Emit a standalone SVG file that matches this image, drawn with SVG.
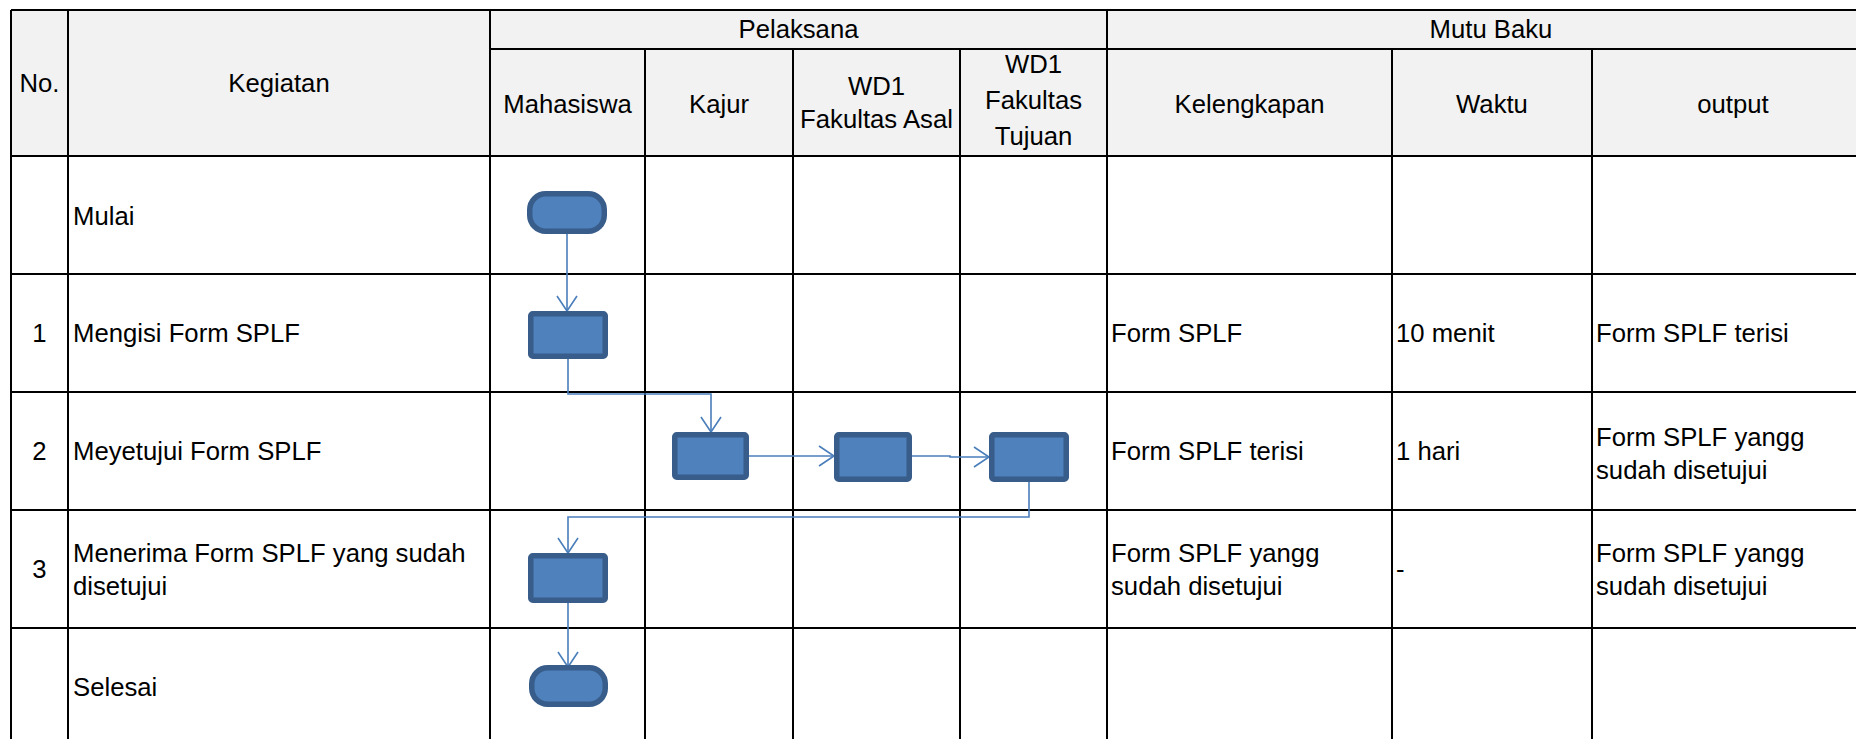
<svg xmlns="http://www.w3.org/2000/svg" width="1856" height="739" viewBox="0 0 1856 739">
<style>
text{font-family:"Liberation Sans",Arial,sans-serif;font-size:25.7px;fill:#000}
.c{text-anchor:middle}
.grid{stroke:#000;stroke-width:2;fill:none}
.node{fill:#4F81BD;stroke:#385D8A;stroke-width:5.5}
.conn{fill:none;stroke:#4A7EBB;stroke-width:1.6}
</style>
<defs>
<marker id="arr" markerUnits="userSpaceOnUse" viewBox="-18 -12 20 24" markerWidth="20" markerHeight="24" refX="0" refY="0" orient="auto">
<path d="M-15,-10 L0,0 L-15,10" fill="none" stroke="#4A7EBB" stroke-width="1.6"/>
</marker>
</defs>
<rect width="1856" height="739" fill="#fff"/>
<g id="table">
<rect x="11" y="10" width="1860" height="146" fill="#F2F2F2"/>
<path class="grid" d="M11 10H1856M490 49H1856M11 156H1856M11 274H1856M11 392H1856M11 510H1856M11 628H1856"/>
<path class="grid" d="M11 10V739M68 10V739M490 10V739M645 49V739M793 49V739M960 49V739M1107 10V739M1392 49V739M1592 49V739"/>
</g>
<g id="header">
<text class="c" x="39.5" y="92">No.</text>
<text class="c" x="279" y="92">Kegiatan</text>
<text class="c" x="798.5" y="38">Pelaksana</text>
<text class="c" x="1491" y="38">Mutu Baku</text>
<text class="c" x="567.5" y="113">Mahasiswa</text>
<text class="c" x="719" y="113">Kajur</text>
<text class="c" x="876.5" y="95">WD1</text>
<text class="c" x="876.5" y="128">Fakultas Asal</text>
<text class="c" x="1033.5" y="73">WD1</text>
<text class="c" x="1033.5" y="109">Fakultas</text>
<text class="c" x="1033.5" y="145">Tujuan</text>
<text class="c" x="1249.5" y="113">Kelengkapan</text>
<text class="c" x="1492" y="113">Waktu</text>
<text class="c" x="1733" y="113">output</text>
</g>
<g id="rows">
<text x="73" y="225">Mulai</text>
<text class="c" x="39.5" y="342">1</text>
<text x="73" y="342">Mengisi Form SPLF</text>
<text x="1111" y="342">Form SPLF</text>
<text x="1396" y="342">10 menit</text>
<text x="1596" y="342">Form SPLF terisi</text>
<text class="c" x="39.5" y="460">2</text>
<text x="73" y="460">Meyetujui Form SPLF</text>
<text x="1111" y="460">Form SPLF terisi</text>
<text x="1396" y="460">1 hari</text>
<text x="1596" y="446">Form SPLF yangg</text>
<text x="1596" y="479">sudah disetujui</text>
<text class="c" x="39.5" y="578">3</text>
<text x="73" y="562">Menerima Form SPLF yang sudah</text>
<text x="73" y="595">disetujui</text>
<text x="1111" y="562">Form SPLF yangg</text>
<text x="1111" y="595">sudah disetujui</text>
<text x="1396" y="578">-</text>
<text x="1596" y="562">Form SPLF yangg</text>
<text x="1596" y="595">sudah disetujui</text>
<text x="73" y="696">Selesai</text>
</g>
<g id="connectors">
<path class="conn" marker-end="url(#arr)" d="M567 234V311"/>
<path class="conn" marker-end="url(#arr)" d="M568 359V394H711V432"/>
<path class="conn" marker-end="url(#arr)" d="M749 456H834"/>
<path class="conn" marker-end="url(#arr)" d="M912 456H950V457H989"/>
<path class="conn" marker-end="url(#arr)" d="M1029 482V517H568V553"/>
<path class="conn" marker-end="url(#arr)" d="M568 603V667"/>
</g>
<g id="n-start"><rect class="node" x="529.75" y="193.75" width="74.5" height="37.5" rx="16" ry="16"/></g>
<g id="n-isi"><rect class="node" x="530.75" y="313.75" width="74.5" height="42.5" rx="2"/></g>
<g id="n-kajur"><rect class="node" x="674.75" y="434.75" width="71.5" height="42.5" rx="2"/></g>
<g id="n-asal"><rect class="node" x="836.75" y="434.75" width="72.5" height="44.5" rx="2"/></g>
<g id="n-tujuan"><rect class="node" x="991.75" y="434.75" width="74.5" height="44.5" rx="2"/></g>
<g id="n-terima"><rect class="node" x="530.75" y="555.75" width="74.5" height="44.5" rx="2"/></g>
<g id="n-end"><rect class="node" x="531.75" y="667.75" width="73.5" height="36.5" rx="16" ry="16"/></g>
</svg>
